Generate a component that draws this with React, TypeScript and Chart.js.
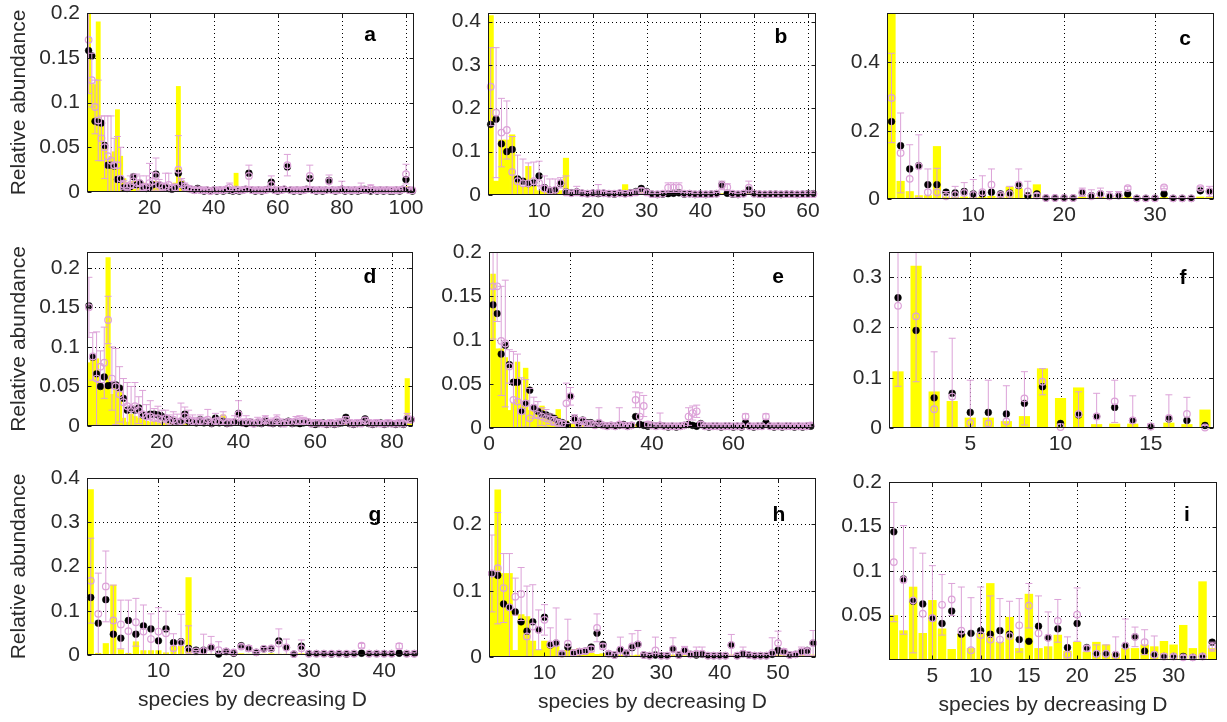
import React, { useEffect, useRef } from "react";
import { Chart, registerables } from "chart.js";
Chart.register(...registerables);

const PAGE_W = 1227;
const PAGE_H = 722;
const FONT = "'Liberation Sans', Arial, Helvetica, sans-serif";
const TEXT = "#2a2a2a";
const YELLOW = "#ffff00";
const PINK = "#dca2d8";

const yTitle = "Relative abundance";
const xTitle = "species by decreasing D";

// ---------- panel a ----------
const aBars = [
  0.21, 0.12, 0.12, 0.19, 0.075, 0.05, 0.035, 0.04, 0.045, 0.092,
  0.04, 0.015, 0.008, 0.01, 0.012, 0.008, 0.006, 0.01, 0.008, 0.005,
  0.008, 0.012, 0.006, 0.005, 0.008, 0.004, 0.006, 0.01, 0.118, 0.012,
  0.008, 0.006, 0.004, 0.003, 0.005, 0.003, 0.002, 0.003, 0.002, 0.004,
  0.003, 0.002, 0.003, 0.005, 0.004, 0.003, 0.021, 0.003, 0.002, 0.003,
  0.004, 0.002, 0.003, 0.002, 0.003, 0.002, 0.002, 0.003, 0.002, 0.002,
  0.003, 0.002, 0.004, 0.002, 0.002, 0.003, 0.002, 0.002, 0.003, 0.004,
  0.002, 0.002, 0.003, 0.002, 0.002, 0.003, 0.002, 0.002, 0.002, 0.003,
  0.002, 0.002, 0.002, 0.003, 0.002, 0.002, 0.003, 0.002, 0.002, 0.002,
  0.002, 0.002, 0.003, 0.002, 0.002, 0.002, 0.002, 0.003, 0.004, 0.006,
  0.003, 0.004,
];
const aBlack = [
  0.158, 0.152, 0.079, 0.078, 0.077, 0.052, 0.03, 0.03, 0.029, 0.014,
  0.014, 0.005, 0.004, 0.006, 0.017, 0.008, 0.01, 0.006, 0.004, 0.005,
  0.008, 0.02, 0.008, 0.006, 0.005, 0.004, 0.003, 0.005, 0.021, 0.008,
  0.005, 0.004, 0.003, 0.002, 0.004, 0.002, 0.001, 0.002, 0.001, 0.002,
  0.001, 0.002, 0.001, 0.003, 0.002, 0.001, 0.002, 0.001, 0.002, 0.003,
  0.021, 0.002, 0.001, 0.002, 0.001, 0.002, 0.003, 0.011, 0.002, 0.001,
  0.002, 0.003, 0.028, 0.002, 0.001, 0.002, 0.001, 0.002, 0.003, 0.015,
  0.002, 0.001, 0.002, 0.001, 0.002, 0.013, 0.002, 0.001, 0.002, 0.003,
  0.001, 0.002, 0.001, 0.002, 0.001, 0.002, 0.003, 0.002, 0.001, 0.002,
  0.001, 0.002, 0.001, 0.002, 0.001, 0.001, 0.002, 0.001, 0.003, 0.014,
  0.002, 0.001,
];
const aPink = [
  0.17, 0.125, 0.095, 0.08, 0.06, 0.05, 0.04, 0.035, 0.03, 0.03,
  0.015, 0.008, 0.006, 0.008, 0.012, 0.01, 0.01, 0.005, 0.006, 0.01,
  0.012, 0.018, 0.008, 0.006, 0.006, 0.008, 0.004, 0.005, 0.025, 0.01,
  0.006, 0.004, 0.003, 0.002, 0.003, 0.002, 0.002, 0.002, 0.001, 0.002,
  0.002, 0.002, 0.002, 0.003, 0.005, 0.002, 0.003, 0.002, 0.002, 0.003,
  0.018, 0.002, 0.002, 0.002, 0.002, 0.002, 0.003, 0.008, 0.002, 0.002,
  0.002, 0.003, 0.03, 0.002, 0.002, 0.002, 0.002, 0.002, 0.003, 0.018,
  0.002, 0.002, 0.002, 0.002, 0.002, 0.012, 0.002, 0.002, 0.002, 0.003,
  0.002, 0.002, 0.002, 0.002, 0.002, 0.003, 0.002, 0.002, 0.004, 0.002,
  0.002, 0.002, 0.002, 0.002, 0.002, 0.002, 0.002, 0.002, 0.003, 0.02,
  0.002, 0.002,
];
const aErr = [
  0.06, 0.03, 0.03, 0.045, 0.025, 0.035, 0.045, 0.05, 0.03, 0.032,
  0.035, 0.005, 0.004, 0.01, 0.008, 0.01, 0.008, 0.004, 0.012, 0.022,
  0.01, 0.02, 0.006, 0.004, 0.015, 0.013, 0.004, 0.004, 0.038, 0.005,
  0.004, 0.003, 0.002, 0.002, 0.002, 0.002, 0.001, 0.002, 0.001, 0.001,
  0.002, 0.001, 0.002, 0.003, 0.005, 0.002, 0.002, 0.001, 0.002, 0.002,
  0.012, 0.002, 0.001, 0.002, 0.001, 0.002, 0.002, 0.01, 0.002, 0.001,
  0.002, 0.002, 0.012, 0.002, 0.001, 0.002, 0.001, 0.002, 0.002, 0.012,
  0.002, 0.001, 0.002, 0.001, 0.002, 0.007, 0.002, 0.001, 0.002, 0.009,
  0.002, 0.002, 0.001, 0.002, 0.001, 0.007, 0.002, 0.002, 0.004, 0.002,
  0.001, 0.002, 0.001, 0.002, 0.001, 0.001, 0.002, 0.001, 0.003, 0.011,
  0.002, 0.001,
];

// ---------- panel b ----------
const bBars = [
  0.414, 0.032, 0.127, 0.127, 0.139, 0.03, 0.02, 0.066, 0.02, 0.01,
  0.008, 0.006, 0.008, 0.01, 0.085, 0.008, 0.006, 0.004, 0.005, 0.004,
  0.005, 0.006, 0.004, 0.005, 0.003, 0.024, 0.004, 0.003, 0.005, 0.003,
  0.002, 0.003, 0.002, 0.004, 0.003, 0.002, 0.003, 0.002, 0.006, 0.002,
  0.002, 0.003, 0.002, 0.003, 0.002, 0.002, 0.003, 0.002, 0.004, 0.002,
  0.002, 0.002, 0.003, 0.002, 0.002, 0.002, 0.002, 0.003, 0.002, 0.002,
  0.002,
];
const bBlack = [
  0.163, 0.175, 0.118, 0.1, 0.105, 0.037, 0.032, 0.026, 0.028, 0.044,
  0.017, 0.011, 0.011, 0.026, 0.007, 0.005, 0.007, 0.004, 0.003, 0.004,
  0.003, 0.004, 0.003, 0.002, 0.004, 0.003, 0.005, 0.008, 0.015, 0.008,
  0.002, 0.001, 0.002, 0.003, 0.004, 0.005, 0.002, 0.003, 0.001, 0.002,
  0.001, 0.002, 0.003, 0.024, 0.004, 0.002, 0.001, 0.003, 0.012, 0.003,
  0.002, 0.001, 0.002, 0.002, 0.001, 0.002, 0.002, 0.001, 0.002, 0.003,
  0.003,
];
const bPink = [
  0.25, 0.19, 0.144, 0.15, 0.053, 0.032, 0.027, 0.027, 0.032, 0.028,
  0.015, 0.01, 0.012, 0.028, 0.006, 0.004, 0.006, 0.004, 0.003, 0.004,
  0.005, 0.004, 0.003, 0.003, 0.004, 0.003, 0.004, 0.006, 0.01, 0.006,
  0.002, 0.002, 0.003, 0.017, 0.017, 0.017, 0.003, 0.003, 0.002, 0.002,
  0.002, 0.002, 0.003, 0.022, 0.018, 0.003, 0.002, 0.003, 0.017, 0.003,
  0.002, 0.002, 0.002, 0.002, 0.002, 0.002, 0.002, 0.002, 0.002, 0.002,
  0.002,
];
const bErr = [
  0.09, 0.15, 0.079, 0.067, 0.082, 0.06, 0.056, 0.047, 0.044, 0.05,
  0.029, 0.027, 0.025, 0.012, 0.038, 0.004, 0.014, 0.004, 0.003, 0.004,
  0.019, 0.004, 0.003, 0.003, 0.004, 0.003, 0.004, 0.005, 0.006, 0.004,
  0.002, 0.002, 0.003, 0.011, 0.011, 0.011, 0.003, 0.003, 0.002, 0.002,
  0.002, 0.002, 0.003, 0.01, 0.008, 0.003, 0.002, 0.003, 0.015, 0.003,
  0.002, 0.002, 0.002, 0.002, 0.002, 0.002, 0.002, 0.002, 0.002, 0.002,
  0.002,
];

// ---------- panel c ----------
const cBars = [
  0.545, 0.052, 0.022, 0.01, 0.01, 0.154, 0.006, 0.005, 0.006, 0.005,
  0.006, 0.008, 0.005, 0.035, 0.03, 0.006, 0.042, 0.004, 0.004, 0.003,
  0.004, 0.006, 0.004, 0.005, 0.004, 0.005, 0.006, 0.003, 0.003, 0.003,
  0.005, 0.003, 0.003, 0.003, 0.006, 0.005,
];
const cBlack = [
  0.227, 0.156, 0.088, 0.098, 0.042, 0.042, 0.02, 0.018, 0.022, 0.015,
  0.015, 0.02, 0.015, 0.018, 0.039, 0.01, 0.015, 0.003, 0.003, 0.003,
  0.003, 0.018, 0.01, 0.015, 0.008, 0.01, 0.015, 0.002, 0.002, 0.002,
  0.015, 0.002, 0.002, 0.002, 0.024, 0.022,
];
const cPink = [
  0.296, 0.135, 0.059, 0.096, 0.02, 0.02, 0.008, 0.012, 0.018, 0.012,
  0.02, 0.042, 0.012, 0.015, 0.042, 0.022, 0.01, 0.003, 0.003, 0.003,
  0.003, 0.02, 0.008, 0.015, 0.008, 0.01, 0.032, 0.002, 0.002, 0.002,
  0.034, 0.002, 0.002, 0.002, 0.032, 0.022,
];
const cErr = [
  0.131, 0.117, 0.1, 0.092, 0.068, 0.07, 0.014, 0.025, 0.03, 0.045,
  0.048, 0.046, 0.005, 0.022, 0.046, 0.03, 0.006, 0.002, 0.002, 0.002,
  0.002, 0.012, 0.019, 0.017, 0.014, 0.012, 0.005, 0.002, 0.002, 0.002,
  0.004, 0.002, 0.002, 0.002, 0.005, 0.015,
];

// ---------- panel d ----------
const dBars = [
  0.08, 0.09, 0.085, 0.045, 0.05, 0.213, 0.04, 0.05, 0.05, 0.01,
  0.005, 0.015, 0.012, 0.01, 0.008, 0.006, 0.005, 0.006, 0.004, 0.005,
  0.004, 0.005, 0.003, 0.004, 0.005, 0.003, 0.004, 0.003, 0.002, 0.003,
  0.002, 0.003, 0.002, 0.003, 0.004, 0.014, 0.003, 0.002, 0.003, 0.004,
  0.002, 0.003, 0.002, 0.002, 0.003, 0.002, 0.003, 0.002, 0.002, 0.003,
  0.002, 0.002, 0.003, 0.002, 0.002, 0.003, 0.002, 0.002, 0.002, 0.003,
  0.002, 0.002, 0.002, 0.003, 0.002, 0.002, 0.003, 0.002, 0.002, 0.002,
  0.003, 0.002, 0.002, 0.002, 0.003, 0.002, 0.002, 0.002, 0.003, 0.002,
  0.002, 0.002, 0.003, 0.06, 0.004,
];
const dBlack = [
  0.152, 0.087, 0.066, 0.05, 0.062, 0.051, 0.052, 0.052, 0.048, 0.035,
  0.02, 0.022, 0.02, 0.023, 0.014, 0.012, 0.015, 0.015, 0.014, 0.012,
  0.01, 0.008, 0.006, 0.005, 0.006, 0.015, 0.006, 0.005, 0.004, 0.008,
  0.004, 0.005, 0.003, 0.01, 0.004, 0.006, 0.003, 0.004, 0.005, 0.016,
  0.004, 0.003, 0.005, 0.003, 0.004, 0.003, 0.006, 0.004, 0.003, 0.005,
  0.003, 0.004, 0.006, 0.003, 0.004, 0.003, 0.004, 0.005, 0.003, 0.002,
  0.003, 0.004, 0.002, 0.003, 0.002, 0.003, 0.004, 0.011, 0.003, 0.002,
  0.003, 0.004, 0.009, 0.003, 0.002, 0.003, 0.004, 0.002, 0.003, 0.003,
  0.002, 0.003, 0.002, 0.009, 0.008,
];
const dPink = [
  0.15, 0.088, 0.06, 0.075, 0.08, 0.134, 0.06, 0.05, 0.04, 0.03,
  0.025, 0.022, 0.025, 0.02, 0.015, 0.012, 0.012, 0.01, 0.01, 0.008,
  0.01, 0.006, 0.008, 0.005, 0.006, 0.012, 0.008, 0.006, 0.005, 0.006,
  0.005, 0.008, 0.004, 0.006, 0.005, 0.01, 0.004, 0.004, 0.005, 0.015,
  0.004, 0.005, 0.004, 0.003, 0.005, 0.004, 0.008, 0.004, 0.004, 0.008,
  0.004, 0.003, 0.005, 0.004, 0.006, 0.006, 0.006, 0.005, 0.003, 0.004,
  0.004, 0.003, 0.003, 0.004, 0.003, 0.004, 0.005, 0.008, 0.004, 0.003,
  0.004, 0.003, 0.007, 0.004, 0.003, 0.004, 0.003, 0.003, 0.004, 0.003,
  0.003, 0.004, 0.003, 0.01, 0.008,
];
const dErr = [
  0.038, 0.03, 0.059, 0.02, 0.045, 0.03, 0.04, 0.048, 0.035, 0.03,
  0.03, 0.028, 0.03, 0.017, 0.03, 0.015, 0.02, 0.012, 0.015, 0.012,
  0.01, 0.008, 0.01, 0.01, 0.023, 0.012, 0.012, 0.008, 0.006, 0.008,
  0.006, 0.013, 0.005, 0.01, 0.006, 0.008, 0.005, 0.005, 0.008, 0.017,
  0.005, 0.008, 0.005, 0.004, 0.006, 0.005, 0.005, 0.004, 0.006, 0.006,
  0.005, 0.003, 0.004, 0.005, 0.006, 0.007, 0.005, 0.004, 0.003, 0.004,
  0.004, 0.003, 0.003, 0.004, 0.003, 0.005, 0.004, 0.004, 0.004, 0.003,
  0.004, 0.003, 0.004, 0.004, 0.003, 0.004, 0.003, 0.003, 0.004, 0.003,
  0.003, 0.004, 0.003, 0.006, 0.004,
];

// ---------- panel e ----------
const eBars = [
  0.175, 0.09, 0.09, 0.08, 0.02, 0.028, 0.075, 0.03, 0.068, 0.02,
  0.02, 0.015, 0.025, 0.012, 0.01, 0.012, 0.021, 0.006, 0.008, 0.005,
  0.004, 0.003, 0.004, 0.003, 0.003, 0.004, 0.003, 0.002, 0.003, 0.002,
  0.002, 0.003, 0.002, 0.002, 0.003, 0.004, 0.002, 0.003, 0.002, 0.002,
  0.002, 0.002, 0.003, 0.002, 0.002, 0.002, 0.003, 0.002, 0.002, 0.004,
  0.003, 0.002, 0.002, 0.002, 0.003, 0.002, 0.002, 0.002, 0.002, 0.003,
  0.002, 0.002, 0.003, 0.002, 0.002, 0.002, 0.002, 0.003, 0.002, 0.002,
  0.002, 0.003, 0.002, 0.002, 0.002, 0.003, 0.002, 0.002, 0.003,
];
const eBlack = [
  0.14, 0.13, 0.084, 0.094, 0.072, 0.052, 0.052, 0.019, 0.028, 0.043,
  0.023, 0.019, 0.016, 0.015, 0.013, 0.011, 0.0075, 0.006, 0.004, 0.036,
  0.011, 0.005, 0.009, 0.006, 0.006, 0.004, 0.005, 0.003, 0.002, 0.003,
  0.002, 0.003, 0.004, 0.002, 0.003, 0.013, 0.004, 0.003, 0.002, 0.003,
  0.002, 0.003, 0.002, 0.001, 0.002, 0.001, 0.002, 0.003, 0.004, 0.003,
  0.002, 0.005, 0.002, 0.001, 0.002, 0.002, 0.001, 0.002, 0.002, 0.001,
  0.002, 0.001, 0.006, 0.002, 0.001, 0.002, 0.002, 0.006, 0.002, 0.001,
  0.002, 0.001, 0.002, 0.002, 0.001, 0.002, 0.001, 0.002, 0.002,
];
const ePink = [
  0.161, 0.161, 0.099, 0.096, 0.07, 0.032, 0.03, 0.019, 0.028, 0.011,
  0.023, 0.015, 0.013, 0.011, 0.01, 0.008, 0.006, 0.005, 0.028, 0.036,
  0.01, 0.004, 0.008, 0.005, 0.005, 0.003, 0.006, 0.003, 0.002, 0.003,
  0.002, 0.004, 0.003, 0.002, 0.003, 0.032, 0.013, 0.025, 0.004, 0.003,
  0.002, 0.003, 0.002, 0.002, 0.002, 0.002, 0.002, 0.003, 0.013, 0.017,
  0.019, 0.004, 0.002, 0.002, 0.002, 0.002, 0.002, 0.002, 0.002, 0.002,
  0.002, 0.002, 0.013, 0.002, 0.002, 0.002, 0.002, 0.013, 0.002, 0.002,
  0.002, 0.002, 0.002, 0.002, 0.002, 0.002, 0.002, 0.002, 0.003,
];
const eErr = [
  0.06, 0.04, 0.062, 0.072, 0.019, 0.055, 0.054, 0.038, 0.027, 0.034,
  0.012, 0.015, 0.01, 0.01, 0.006, 0.005, 0.004, 0.003, 0.023, 0.01,
  0.005, 0.003, 0.004, 0.003, 0.003, 0.003, 0.017, 0.003, 0.002, 0.003,
  0.002, 0.019, 0.003, 0.002, 0.003, 0.009, 0.027, 0.012, 0.003, 0.002,
  0.002, 0.014, 0.002, 0.002, 0.002, 0.002, 0.002, 0.003, 0.01, 0.008,
  0.007, 0.003, 0.002, 0.002, 0.002, 0.002, 0.002, 0.002, 0.002, 0.002,
  0.002, 0.002, 0.003, 0.002, 0.002, 0.002, 0.002, 0.003, 0.002, 0.002,
  0.002, 0.002, 0.002, 0.002, 0.002, 0.002, 0.002, 0.002, 0.002,
];

// ---------- panel f ----------
const fBars = [0.112, 0.322, 0.072, 0.053, 0.02, 0.02, 0.013, 0.023, 0.118, 0.059, 0.08, 0.007, 0.008, 0.008, 0.001, 0.01, 0.007, 0.036];
const fBlack = [0.259, 0.194, 0.06, 0.069, 0.031, 0.031, 0.028, 0.049, 0.082, 0.009, 0.026, 0.023, 0.041, 0.015, 0.003, 0.018, 0.015, 0.005];
const fPink = [0.243, 0.222, 0.0375, 0.0625, 0.01, 0.009, 0.013, 0.059, 0.092, 0.002, 0.028, 0.023, 0.053, 0.015, 0.003, 0.02, 0.028, 0.001];
const fErr = [0.16, 0.13, 0.114, 0.116, 0.085, 0.086, 0.071, 0.053, 0.026, 0.006, 0.044, 0.046, 0.042, 0.049, 0.006, 0.046, 0.033, 0.004];

// ---------- panel g ----------
const gBars = [
  0.374, 0.004, 0.026, 0.158, 0.012, 0.004, 0.03, 0.01, 0.01, 0.01,
  0.005, 0.02, 0.02, 0.175, 0.002, 0.003, 0.002, 0.002, 0.003, 0.002,
  0.003, 0.002, 0.002, 0.002, 0.003, 0.002, 0.002, 0.002, 0.003, 0.002,
  0.002, 0.003, 0.002, 0.002, 0.002, 0.002, 0.003, 0.002, 0.002, 0.002,
  0.002, 0.003, 0.002, 0.002,
];
const gBlack = [
  0.13, 0.072, 0.125, 0.047, 0.038, 0.078, 0.047, 0.066, 0.059, 0.032,
  0.059, 0.028, 0.03, 0.015, 0.011, 0.011, 0.017, 0.002, 0.008, 0.004,
  0.021, 0.015, 0.006, 0.014, 0.014, 0.032, 0.017, 0.002, 0.02, 0.003,
  0.003, 0.003, 0.002, 0.003, 0.002, 0.003, 0.004, 0.003, 0.003, 0.003,
  0.003, 0.004, 0.003, 0.003,
];
const gPink = [
  0.168, 0.093, 0.155, 0.078, 0.069, 0.054, 0.074, 0.053, 0.036, 0.053,
  0.049, 0.015, 0.028, 0.011, 0.008, 0.009, 0.017, 0.011, 0.008, 0.006,
  0.019, 0.015, 0.006, 0.014, 0.015, 0.026, 0.017, 0.002, 0.015, 0.003,
  0.003, 0.003, 0.003, 0.003, 0.003, 0.003, 0.021, 0.003, 0.003, 0.003,
  0.003, 0.02, 0.003, 0.003,
];
const gErr = [
  0.096, 0.092, 0.08, 0.08, 0.055, 0.07, 0.054, 0.06, 0.057, 0.054,
  0.05, 0.033, 0.064, 0.055, 0.002, 0.038, 0.025, 0.019, 0.003, 0.003,
  0.004, 0.006, 0.002, 0.003, 0.003, 0.033, 0.019, 0.002, 0.019, 0.002,
  0.002, 0.002, 0.002, 0.002, 0.002, 0.002, 0.005, 0.002, 0.002, 0.002,
  0.002, 0.006, 0.002, 0.002,
];

// ---------- panel h ----------
const hBars = [
  0.13, 0.252, 0.126, 0.126, 0.01, 0.064, 0.061, 0.024, 0.01, 0.024,
  0.014, 0.016, 0.005, 0.01, 0.011, 0.013, 0.01, 0.006, 0.004, 0.005,
  0.003, 0.002, 0.003, 0.002, 0.002, 0.003, 0.002, 0.002, 0.002, 0.002,
  0.002, 0.003, 0.002, 0.002, 0.003, 0.002, 0.002, 0.002, 0.003, 0.002,
  0.002, 0.003, 0.002, 0.002, 0.002, 0.002, 0.003, 0.002, 0.002, 0.003,
  0.002, 0.002, 0.002, 0.003, 0.002, 0.003,
];
const hBlack = [
  0.126, 0.123, 0.08, 0.075, 0.068, 0.053, 0.039, 0.053, 0.041, 0.06,
  0.018, 0.021, 0.005, 0.015, 0.006, 0.008, 0.009, 0.015, 0.036, 0.019,
  0.005, 0.003, 0.011, 0.005, 0.014, 0.019, 0.003, 0.002, 0.003, 0.002,
  0.002, 0.012, 0.003, 0.01, 0.004, 0.003, 0.004, 0.002, 0.002, 0.002,
  0.002, 0.018, 0.002, 0.005, 0.003, 0.002, 0.002, 0.002, 0.004, 0.01,
  0.008, 0.003, 0.004, 0.008, 0.01, 0.021,
];
const hPink = [
  0.126, 0.134, 0.104, 0.075, 0.091, 0.095, 0.031, 0.046, 0.041, 0.056,
  0.019, 0.021, 0.005, 0.02, 0.006, 0.008, 0.009, 0.012, 0.044, 0.016,
  0.005, 0.003, 0.011, 0.006, 0.016, 0.019, 0.003, 0.002, 0.01, 0.002,
  0.002, 0.012, 0.003, 0.01, 0.004, 0.005, 0.005, 0.002, 0.002, 0.002,
  0.002, 0.018, 0.002, 0.005, 0.003, 0.002, 0.002, 0.002, 0.006, 0.021,
  0.008, 0.003, 0.004, 0.008, 0.008, 0.021,
];
const hErr = [
  0.058, 0.084, 0.052, 0.081, 0.028, 0.04, 0.076, 0.063, 0.03, 0.023,
  0.025, 0.053, 0.003, 0.037, 0.004, 0.004, 0.004, 0.004, 0.021, 0.004,
  0.003, 0.002, 0.019, 0.003, 0.019, 0.021, 0.002, 0.002, 0.02, 0.002,
  0.002, 0.017, 0.002, 0.006, 0.003, 0.01, 0.01, 0.002, 0.002, 0.002,
  0.002, 0.016, 0.002, 0.01, 0.002, 0.002, 0.002, 0.002, 0.023, 0.018,
  0.004, 0.002, 0.003, 0.007, 0.006, 0.019,
];

// ---------- panel i ----------
const iBars = [
  0.05, 0.033, 0.082, 0.03, 0.067, 0.035, 0.012, 0.029, 0.013, 0.03,
  0.086, 0.02, 0.048, 0.013, 0.074, 0.013, 0.015, 0.028, 0.01, 0.02,
  0.009, 0.02, 0.017, 0.007, 0.013, 0.013, 0.017, 0.015, 0.021, 0.017,
  0.039, 0.013, 0.088, 0.013,
];
const iBlack = [
  0.144, 0.091, 0.066, 0.063, 0.047, 0.041, 0.055, 0.029, 0.03, 0.033,
  0.029, 0.033, 0.029, 0.023, 0.021, 0.038, 0.025, 0.035, 0.014, 0.041,
  0.014, 0.007, 0.007, 0.006, 0.016, 0.026, 0.01, 0.006, 0.004, 0.004,
  0.004, 0.003, 0.004, 0.02,
];
const iPink = [
  0.11, 0.09, 0.067, 0.052, 0.047, 0.062, 0.068, 0.033, 0.011, 0.028,
  0.023, 0.023, 0.027, 0.039, 0.061, 0.03, 0.025, 0.044, 0.006, 0.051,
  0.013, 0.007, 0.007, 0.006, 0.016, 0.026, 0.02, 0.006, 0.004, 0.004,
  0.003, 0.003, 0.004, 0.015,
];
const iErr = [
  0.067, 0.061, 0.059, 0.068, 0.059, 0.034, 0.018, 0.049, 0.059, 0.054,
  0.049, 0.046, 0.039, 0.03, 0.025, 0.042, 0.029, 0.024, 0.02, 0.03,
  0.003, 0.01, 0.01, 0.02, 0.03, 0.011, 0.014, 0.021, 0.003, 0.002,
  0.002, 0.002, 0.002, 0.005,
];

// ---------- axis ranges and ticks ----------
const aXTicks = [20, 40, 60, 80, 100];
const aYTicks = [0, 0.05, 0.1, 0.15, 0.2];
const bXTicks = [10, 20, 30, 40, 50, 60];
const bYTicks = [0, 0.1, 0.2, 0.3, 0.4];
const cXTicks = [10, 20, 30];
const cYTicks = [0, 0.2, 0.4];
const dXTicks = [20, 40, 60, 80];
const dYTicks = [0, 0.05, 0.1, 0.15, 0.2];
const eXTicks = [0, 20, 40, 60];
const eYTicks = [0, 0.05, 0.1, 0.15, 0.2];
const fXTicks = [5, 10, 15];
const fYTicks = [0, 0.1, 0.2, 0.3];
const gXTicks = [10, 20, 30, 40];
const gYTicks = [0, 0.1, 0.2, 0.3, 0.4];
const hXTicks = [10, 20, 30, 40, 50];
const hYTicks = [0, 0.1, 0.2];
const iXTicks = [5, 10, 15, 20, 25, 30];
const iYTicks = [0.05, 0.1, 0.15, 0.2];

type Panel = {
  letter: string;
  bars: number[];
  black: number[];
  pink: number[];
  err: number[];
  xRange: [number, number];
  yRange: [number, number];
  xTicks: number[];
  yTicks: number[];
  rect: [number, number, number, number]; // plot area L, T, R, B
  letterOff: [number, number]; // from right, from top
  barPx: number;
  leftCol: boolean;
  bottomRow: boolean;
};

const panels: Panel[] = [
  { letter: "a", bars: aBars, black: aBlack, pink: aPink, err: aErr, xRange: [0.5, 102.5], yRange: [0, 0.2], xTicks: aXTicks, yTicks: aYTicks, rect: [87, 13, 414, 192], letterOff: [44, 22], barPx: 4.2, leftCol: true, bottomRow: false },
  { letter: "b", bars: bBars, black: bBlack, pink: bPink, err: bErr, xRange: [0.5, 61.5], yRange: [0, 0.42], xTicks: bXTicks, yTicks: bYTicks, rect: [488, 13, 816, 195], letterOff: [35, 24], barPx: 5.5, leftCol: false, bottomRow: false },
  { letter: "c", bars: cBars, black: cBlack, pink: cPink, err: cErr, xRange: [0.5, 36.5], yRange: [0, 0.545], xTicks: cXTicks, yTicks: cYTicks, rect: [887, 13, 1214, 199], letterOff: [29, 26], barPx: 7.5, leftCol: false, bottomRow: false },
  { letter: "d", bars: dBars, black: dBlack, pink: dPink, err: dErr, xRange: [0.5, 85.5], yRange: [0, 0.22], xTicks: dXTicks, yTicks: dYTicks, rect: [87, 252, 413, 426], letterOff: [43, 25], barPx: 4.5, leftCol: true, bottomRow: false },
  { letter: "e", bars: eBars, black: eBlack, pink: ePink, err: eErr, xRange: [0, 79.8], yRange: [0, 0.2], xTicks: eXTicks, yTicks: eYTicks, rect: [489, 252, 814, 428], letterOff: [36, 25], barPx: 4.8, leftCol: false, bottomRow: false },
  { letter: "f", bars: fBars, black: fBlack, pink: fPink, err: fErr, xRange: [0.5, 18.5], yRange: [0, 0.35], xTicks: fXTicks, yTicks: fYTicks, rect: [889, 252, 1214, 428], letterOff: [31, 26], barPx: 10.5, leftCol: false, bottomRow: false },
  { letter: "g", bars: gBars, black: gBlack, pink: gPink, err: gErr, xRange: [0.5, 44.5], yRange: [0, 0.4], xTicks: gXTicks, yTicks: gYTicks, rect: [87, 478, 418, 655], letterOff: [43, 37], barPx: 5.5, leftCol: true, bottomRow: true },
  { letter: "h", bars: hBars, black: hBlack, pink: hPink, err: hErr, xRange: [0.5, 56.5], yRange: [0, 0.27], xTicks: hXTicks, yTicks: hYTicks, rect: [489, 478, 816, 657], letterOff: [37, 37], barPx: 6, leftCol: false, bottomRow: true },
  { letter: "i", bars: iBars, black: iBlack, pink: iPink, err: iErr, xRange: [0.5, 34.5], yRange: [0, 0.2], xTicks: iXTicks, yTicks: iYTicks, rect: [889, 482, 1217, 660], letterOff: [30, 33], barPx: 7.8, leftCol: false, bottomRow: true },
];

const Y_AXIS_W = 80;
const fmt = (v: number) => Number(Number(v).toFixed(4)).toString();

function makeDecor(p: Panel) {
  return {
    id: "decor_" + p.letter,
    beforeDatasetsDraw(chart: any) {
      const { ctx, chartArea: a, scales } = chart;
      const x = scales.x, y = scales.y;
      ctx.save();
      ctx.strokeStyle = "#000";
      ctx.lineWidth = 1;
      ctx.setLineDash([1, 3]);
      ctx.beginPath();
      for (const t of p.xTicks) {
        const px = Math.round(x.getPixelForValue(t)) + 0.5;
        if (px > a.left + 1.5 && px < a.right - 1.5) {
          ctx.moveTo(px, a.top);
          ctx.lineTo(px, a.bottom);
        }
      }
      for (const t of p.yTicks) {
        const py = Math.round(y.getPixelForValue(t)) + 0.5;
        if (py > a.top + 1.5 && py < a.bottom - 1.5) {
          ctx.moveTo(a.left, py);
          ctx.lineTo(a.right, py);
        }
      }
      ctx.stroke();
      ctx.restore();
    },
    afterDatasetDraw(chart: any, args: any) {
      if (args.index !== 1) return;
      const { ctx, chartArea: a, scales } = chart;
      const x = scales.x, y = scales.y;
      ctx.save();
      ctx.beginPath();
      ctx.rect(a.left, a.top, a.right - a.left, a.bottom - a.top);
      ctx.clip();
      ctx.strokeStyle = PINK;
      ctx.lineWidth = 1;
      const cap = 3.5;
      ctx.beginPath();
      p.pink.forEach((m, i) => {
        const e = p.err[i] ?? 0;
        const px = x.getPixelForValue(i + 1);
        const top = y.getPixelForValue(m + e);
        const bot = y.getPixelForValue(m - e);
        ctx.moveTo(px, top);
        ctx.lineTo(px, bot);
        ctx.moveTo(px - cap, top);
        ctx.lineTo(px + cap, top);
        ctx.moveTo(px - cap, bot);
        ctx.lineTo(px + cap, bot);
      });
      ctx.stroke();
      ctx.restore();
    },
    afterDraw(chart: any) {
      const { ctx, chartArea: a, scales } = chart;
      const x = scales.x, y = scales.y;
      const L = Math.round(a.left) + 0.5, T = Math.round(a.top) + 0.5;
      const R = Math.round(a.right) - 0.5, B = Math.round(a.bottom) - 0.5;
      ctx.save();
      ctx.strokeStyle = "#1a1a1a";
      ctx.lineWidth = 1;
      ctx.setLineDash([]);
      ctx.strokeRect(L, T, R - L, B - T);
      const tl = 4;
      ctx.beginPath();
      for (const t of p.xTicks) {
        const px = Math.round(x.getPixelForValue(t)) + 0.5;
        ctx.moveTo(px, B); ctx.lineTo(px, B - tl);
        ctx.moveTo(px, T); ctx.lineTo(px, T + tl);
      }
      for (const t of p.yTicks) {
        const py = Math.round(y.getPixelForValue(t)) + 0.5;
        ctx.moveTo(L, py); ctx.lineTo(L + tl, py);
        ctx.moveTo(R, py); ctx.lineTo(R - tl, py);
      }
      ctx.stroke();
      ctx.fillStyle = "#000";
      ctx.font = `bold 21px ${FONT}`;
      ctx.textAlign = "center";
      ctx.textBaseline = "middle";
      ctx.fillText(p.letter, a.right - p.letterOff[0], a.top + p.letterOff[1]);
      ctx.restore();
    },
  };
}

function PanelChart({ p }: { p: Panel }) {
  const ref = useRef<HTMLCanvasElement | null>(null);
  useEffect(() => {
    if (!ref.current) return;
    const [L, T, R, B] = p.rect;
    const xH = p.bottomRow ? 58 : 32;
    const tickFont = { family: FONT, size: 21 };
    const chart = new Chart(ref.current, {
      type: "bar",
      data: {
        datasets: [
          {
            type: "bar",
            data: p.bars.map((v, i) => ({ x: i + 1, y: v })),
            backgroundColor: YELLOW,
            borderWidth: 0,
            barThickness: p.barPx,
            order: 3,
          } as any,
          {
            type: "scatter",
            data: p.black.map((v, i) => ({ x: i + 1, y: v })),
            pointRadius: 3.4,
            pointBackgroundColor: "#000",
            pointBorderColor: "#000",
            pointBorderWidth: 0.5,
            order: 2,
            clip: 4,
          } as any,
          {
            type: "scatter",
            data: p.pink.map((v, i) => ({ x: i + 1, y: v })),
            pointRadius: 3.3,
            pointBackgroundColor: "rgba(0,0,0,0)",
            pointBorderColor: PINK,
            pointBorderWidth: 1.2,
            order: 1,
            clip: 4,
          } as any,
        ],
      },
      options: {
        responsive: false,
        animation: false,
        devicePixelRatio: 1,
        events: [],
        layout: {
          autoPadding: false,
          padding: { left: L - Y_AXIS_W, top: T, right: PAGE_W - R, bottom: PAGE_H - B - xH },
        },
        plugins: { legend: { display: false }, tooltip: { enabled: false }, title: { display: false } },
        scales: {
          x: {
            type: "linear",
            min: p.xRange[0],
            max: p.xRange[1],
            offset: false,
            grid: { display: false, drawTicks: false },
            border: { display: false },
            ticks: {
              autoSkip: false,
              maxRotation: 0,
              minRotation: 0,
              padding: 4,
              font: tickFont,
              color: TEXT,
              callback: (v: any) => fmt(v),
            },
            afterBuildTicks: (s: any) => {
              s.ticks = p.xTicks.map((v) => ({ value: v }));
            },
            afterFit: (s: any) => {
              s.height = xH;
              s.paddingLeft = 0;
              s.paddingRight = 0;
            },
            title: p.bottomRow
              ? { display: true, text: xTitle, font: tickFont, color: TEXT, padding: { top: 0, bottom: 0 } }
              : { display: false },
          },
          y: {
            type: "linear",
            min: p.yRange[0],
            max: p.yRange[1],
            grid: { display: false, drawTicks: false },
            border: { display: false },
            ticks: {
              autoSkip: false,
              padding: 7,
              font: tickFont,
              color: TEXT,
              callback: (v: any) => fmt(v),
            },
            afterBuildTicks: (s: any) => {
              s.ticks = p.yTicks.map((v) => ({ value: v }));
            },
            afterFit: (s: any) => {
              s.width = Y_AXIS_W;
              s.paddingTop = 0;
              s.paddingBottom = 0;
            },
            title: p.leftCol
              ? { display: true, text: yTitle, font: tickFont, color: TEXT, padding: { top: 0, bottom: 0 } }
              : { display: false },
          },
        },
      } as any,
      plugins: [makeDecor(p)],
    });
    return () => chart.destroy();
  }, [p]);
  return (
    <canvas
      ref={ref}
      width={PAGE_W}
      height={PAGE_H}
      style={{ position: "absolute", left: 0, top: 0, width: PAGE_W, height: PAGE_H }}
    />
  );
}

export default function App() {
  return (
    <div
      style={{
        position: "absolute",
        left: 0,
        top: 0,
        width: PAGE_W,
        height: PAGE_H,
        background: "#fff",
        overflow: "hidden",
      }}
    >
      {panels.map((p) => (
        <PanelChart key={p.letter} p={p} />
      ))}
    </div>
  );
}
